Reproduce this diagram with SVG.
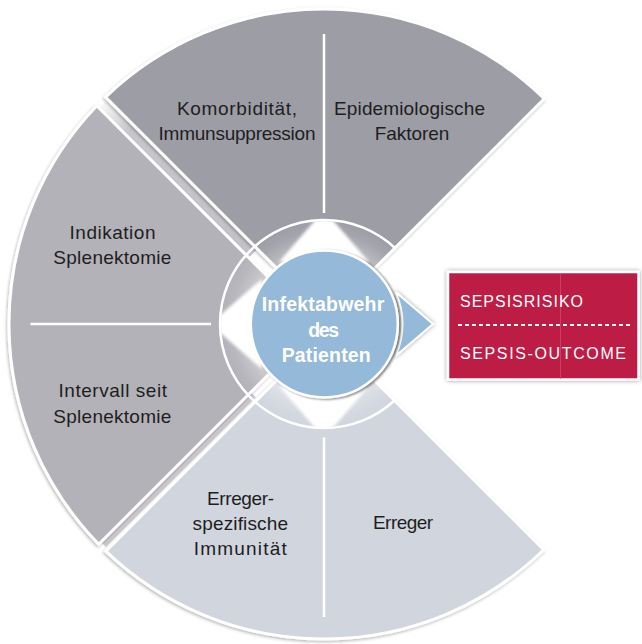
<svg xmlns="http://www.w3.org/2000/svg" width="642" height="644" viewBox="0 0 642 644">
<defs>
<style>
.lbl{font-family:"Liberation Sans",Arial,sans-serif;font-size:19px;fill:#1e1e1e;text-anchor:middle}
.ctr{font-family:"Liberation Sans",Arial,sans-serif;font-size:19.5px;font-weight:bold;fill:#ffffff;text-anchor:middle}
.boxt{font-family:"Liberation Sans",Arial,sans-serif;font-size:16px;fill:#ffffff}
.sector{stroke:#ffffff;stroke-width:3;stroke-linejoin:miter;filter:url(#sh)}
.div{stroke:#ffffff;stroke-width:2.5;fill:none}
</style>
<filter id="sh" x="-10%" y="-10%" width="120%" height="120%">
<feDropShadow dx="-1" dy="1.5" stdDeviation="1.5" flood-color="#000" flood-opacity="0.28"/>
</filter>
<filter id="csh" x="-20%" y="-20%" width="140%" height="140%">
<feDropShadow dx="2" dy="1" stdDeviation="1.2" flood-color="#333" flood-opacity="0.6"/>
</filter>
<filter id="bsh" x="-10%" y="-10%" width="120%" height="120%">
<feDropShadow dx="0" dy="0" stdDeviation="2" flood-color="#000" flood-opacity="0.4"/>
</filter>
<filter id="blur" x="-20%" y="-20%" width="140%" height="140%">
<feGaussianBlur stdDeviation="1.4"/>
</filter>
<clipPath id="ringClip"><circle cx="324" cy="324" r="103"/></clipPath>
<clipPath id="outerClip"><circle cx="324" cy="324" r="315"/></clipPath>
<radialGradient id="ringGrad" cx="324" cy="324" r="103" gradientUnits="userSpaceOnUse">
<stop offset="0.72" stop-color="#fff" stop-opacity="0.35"/>
<stop offset="0.9" stop-color="#fff" stop-opacity="0.08"/>
<stop offset="1" stop-color="#fff" stop-opacity="0"/>
</radialGradient>
<linearGradient id="gapGrad1" x1="100" y1="100" x2="250" y2="250" gradientUnits="userSpaceOnUse">
<stop offset="0" stop-color="#ffffff"/>
<stop offset="0.2" stop-color="#c6c6cb"/>
<stop offset="1" stop-color="#c2c2c7"/>
</linearGradient>
</defs>
<rect width="642" height="644" fill="#ffffff"/>

<g id="gaps" clip-path="url(#outerClip)">
<polygon points="249.75,256.83 256.47,250.11 106.56,100.2 99.84,106.92" fill="url(#gapGrad1)"/>
<polygon points="251.52,392.94 255.76,397.18 105.85,547.09 101.61,542.85" fill="#c8c8cd"/>
</g>

<g id="sector-top">
<path class="sector" d="M325.75,317.25 L105.55,97.05 A315,315 0 0 1 544.23,98.77 Z" fill="#9d9da6"/>
</g>
<g id="sector-left">
<path class="sector" d="M317,326 L96.8,105.8 A315,315 0 0 0 98.77,544.23 Z" fill="#b3b2b8"/>
</g>
<g id="sector-bottom">
<path class="sector" d="M325.5,331.5 L105.8,551.2 A315,315 0 0 0 543.72,549.72 Z" fill="#d1d5de"/>
</g>

<g id="ring" clip-path="url(#ringClip)">
<circle cx="324" cy="324" r="103" fill="url(#ringGrad)"/>
<g filter="url(#blur)" fill="#ffffff">
<polygon points="324,210 279,262 369,262"/>
<polygon points="210,324 262,279 262,369"/>
<polygon points="324,438 279,386 369,386"/>
</g>
</g>
<path d="M395,248 A104,104 0 1 0 394.5,400.5" fill="none" stroke="#ffffff" stroke-width="2.5"/>

<g id="dividers">
<line class="div" x1="324" y1="34" x2="324" y2="213"/>
<line class="div" x1="324" y1="437.5" x2="324" y2="617"/>
<line class="div" x1="30.5" y1="324" x2="211" y2="324"/>
</g>

<g id="node-komorbiditaet">
<text class="lbl" x="237" y="115" textLength="120">Komorbidität,</text>
<text class="lbl" x="237" y="140" textLength="157">Immunsuppression</text>
</g>
<g id="node-epidemiologie">
<text class="lbl" x="409.5" y="115" textLength="151">Epidemiologische</text>
<text class="lbl" x="412" y="140" textLength="74.5">Faktoren</text>
</g>
<g id="node-indikation">
<text class="lbl" x="112.5" y="238.5" textLength="86">Indikation</text>
<text class="lbl" x="112.3" y="264" textLength="118">Splenektomie</text>
</g>
<g id="node-intervall">
<text class="lbl" x="112.7" y="397" textLength="108.5">Intervall seit</text>
<text class="lbl" x="112.3" y="423" textLength="118">Splenektomie</text>
</g>
<g id="node-immunitaet">
<text class="lbl" x="240.5" y="505" textLength="67">Erreger-</text>
<text class="lbl" x="240.3" y="530" textLength="95.5">spezifische</text>
<text class="lbl" x="240.3" y="555" textLength="93">Immunität</text>
</g>
<g id="node-erreger">
<text class="lbl" x="403" y="529" textLength="60">Erreger</text>
</g>

<g id="connectors">
<path d="M395.6,292 A78,78 0 0 1 395.6,356 L433,324 Z" fill="#94b9d9" stroke="#ffffff" stroke-width="2" stroke-linejoin="miter" filter="url(#bsh)"/>
</g>

<g id="node-center">
<circle cx="324.3" cy="324" r="73.5" fill="#94b9d9" stroke="#ffffff" stroke-width="2.5" filter="url(#csh)"/>
<text class="ctr" x="323" y="311" textLength="122.5">Infektabwehr</text>
<text class="ctr" x="323.7" y="337" textLength="31">des</text>
<text class="ctr" x="326.2" y="362" textLength="89">Patienten</text>
</g>

<g id="node-sepsis">
<rect x="448" y="272" width="190.5" height="107.5" fill="#bd1e45" stroke="#ffffff" stroke-width="2.5" filter="url(#bsh)"/>
<line x1="560.5" y1="273.5" x2="560.5" y2="378.5" stroke="#cc3f60" stroke-width="1"/>
<line x1="458" y1="325" x2="631" y2="325" stroke="#ffffff" stroke-width="2" stroke-dasharray="4 3"/>
<text class="boxt" x="460" y="306.5" textLength="123">SEPSISRISIKO</text>
<text class="boxt" x="460" y="359" textLength="166">SEPSIS-OUTCOME</text>
</g>
</svg>
